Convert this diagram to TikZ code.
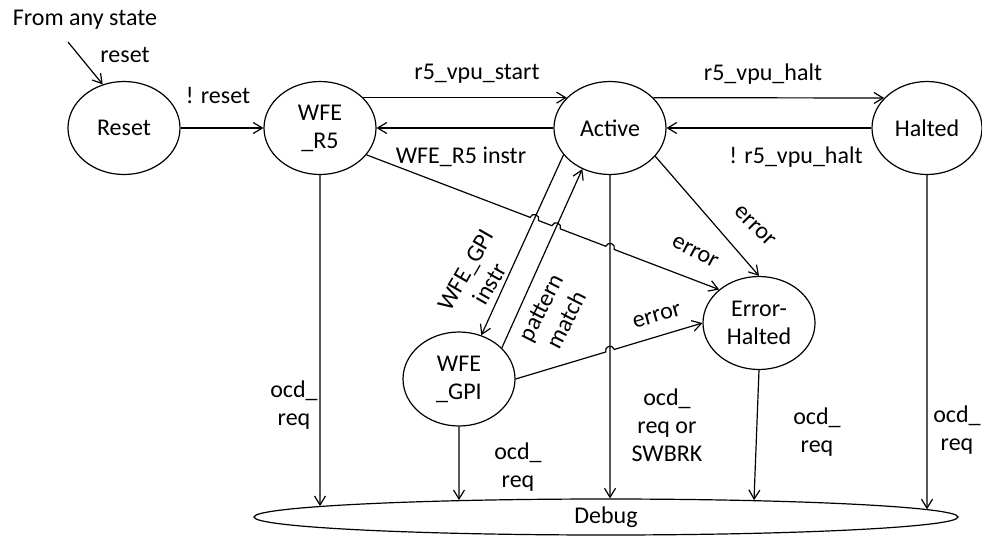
\documentclass[tikz,border=0pt]{standalone}
\usepackage{fontspec}
\setmainfont{Carlito}
\usetikzlibrary{arrows.meta,shapes.geometric,calc,intersections}

\begin{document}
\begin{tikzpicture}[x=1pt,y=-1pt,
  line width=1.2pt,
  >={Straight Barb[length=9pt,width=11pt]},
  every node/.style={font=\fontsize{24}{28}\selectfont, inner sep=0pt},
  state/.style={draw, ellipse, minimum width=112pt, minimum height=93pt, align=center},
  lbl/.style={align=center},
  hop/.style={bend left=90, looseness=1.7},
]
\useasboundingbox (0,0) rectangle (982,536);

% states
\node[state] (reset) at (124,128) {Reset};
\node[state] (r5) at (320,128) {WFE\\\_R5};
\node[state] (act) at (610,128) {Active};
\node[state, minimum width=110pt] (halt) at (927,128) {Halted};
\node[state] (eh) at (759,323) {Error-\\Halted};
\node[state, minimum height=94pt] (gpi) at (459,379) {WFE\\\_GPI};
\node[draw, ellipse, minimum width=704pt, minimum height=36pt] (dbg) at (606,517) {Debug};

% global reset entry
\node[anchor=base] (from) at (85,25) {From any state};
\coordinate (src) at (68,42);
\draw[->] (src) -- (reset.116);
\node[anchor=base] (lreset) at (125,62) {reset};

% top row transitions
\draw[->] (reset.east) -- (r5.west);
\node[anchor=base] (lnreset) at (218,103) {! reset};
\draw[->] (r5.35) -- (act.145);
\node[anchor=base] (lstart) at (477,79) {r5\_vpu\_start};
\draw[->] (act.west) -- (r5.east);
\node[anchor=base] (lr5instr) at (461,163) {WFE\_R5 instr};
\draw[->] (act.35) -- (halt.145);
\node[anchor=base] (lhalt) at (763,80) {r5\_vpu\_halt};
\draw[->] (halt.west) -- (act.east);
\node[anchor=base] (lnhalt) at (796,163) {! r5\_vpu\_halt};

% Active <-> WFE_GPI
\draw[->, name path=L2] (act.210) -- (gpi.63);
\draw[->, name path=L3] (gpi.36) -- (act.236);
\node[lbl, rotate=60] (lgpi) at (478,277) {WFE\_GPI\\instr};
\node[lbl, rotate=63] (lpm) at (554,314) {pattern\\match};

% helper outlines for crossings
\path[name path=dbgb] (dbg.center) ellipse [x radius=352.6pt, y radius=18.6pt];
\path[name path=V] (act.south) -- ++(0,400);

% Active -> Debug
\draw[->, name intersections={of=V and dbgb, sort by=V, by={vt}}] (act.south) -- (vt);
\node[lbl] (l3) at (667,425) {ocd\_\\req or\\SWBRK};

% WFE_R5 -> Error-Halted, hopping over three lines
\coordinate (a1) at (r5.-30);
\coordinate (b1) at (eh.140);
\path[name path=L1] (a1) -- (b1);
\path[name intersections={of=L1 and L2, by={x1}}];
\path[name intersections={of=L1 and L3, by={x2}}];
\path[name intersections={of=L1 and V, by={x3}}];
\draw[->] (a1) -- ($(x1)!4.5pt!(a1)$) to[hop] ($(x1)!4.5pt!(b1)$)
  -- ($(x2)!4.5pt!(a1)$) to[hop] ($(x2)!4.5pt!(b1)$)
  -- ($(x3)!4.5pt!(a1)$) to[hop] ($(x3)!4.5pt!(b1)$) -- (b1);
\node[rotate=-28] (le1) at (695,252) {error};

% Active -> Error-Halted
\draw[->] (act.-32) -- (eh.north);
\node[rotate=-45] (le2) at (755,226) {error};

% WFE_GPI -> Error-Halted, hopping over the Active line
\path[name path=L4] (gpi.east) -- (eh.west);
\path[name intersections={of=L4 and V, by={x4}}];
\draw[->] (gpi.east) -- ($(x4)!4.5pt!(gpi.east)$) to[hop] ($(x4)!4.5pt!(eh.west)$) -- (eh.west);
\node[rotate=16] (le3) at (657,316) {error};

% debug requests
\path[name path=V1] (r5.south) -- ++(0,400);
\draw[->, name intersections={of=V1 and dbgb, sort by=V1, by={t1}}] (r5.south) -- (t1);
\node[lbl] (l1) at (294,405) {ocd\_\\req};

\path[name path=V2] (gpi.south) -- ++(0,400);
\draw[->, name intersections={of=V2 and dbgb, sort by=V2, by={t2}}] (gpi.south) -- (t2);
\node[lbl] (l2) at (518,467) {ocd\_\\req};

\path[name path=V4] (eh.south) -- ++(-15,390);
\draw[->, name intersections={of=V4 and dbgb, sort by=V4, by={t4}}] (eh.south) -- (t4);
\node[lbl] (l4) at (817,432) {ocd\_\\req};

\path[name path=V5] (halt.south) -- ++(0,400);
\draw[->, name intersections={of=V5 and dbgb, sort by=V5, by={t5}}] (halt.south) -- (t5);
\node[lbl] (l5) at (957,430) {ocd\_\\req};
\end{tikzpicture}
\end{document}
